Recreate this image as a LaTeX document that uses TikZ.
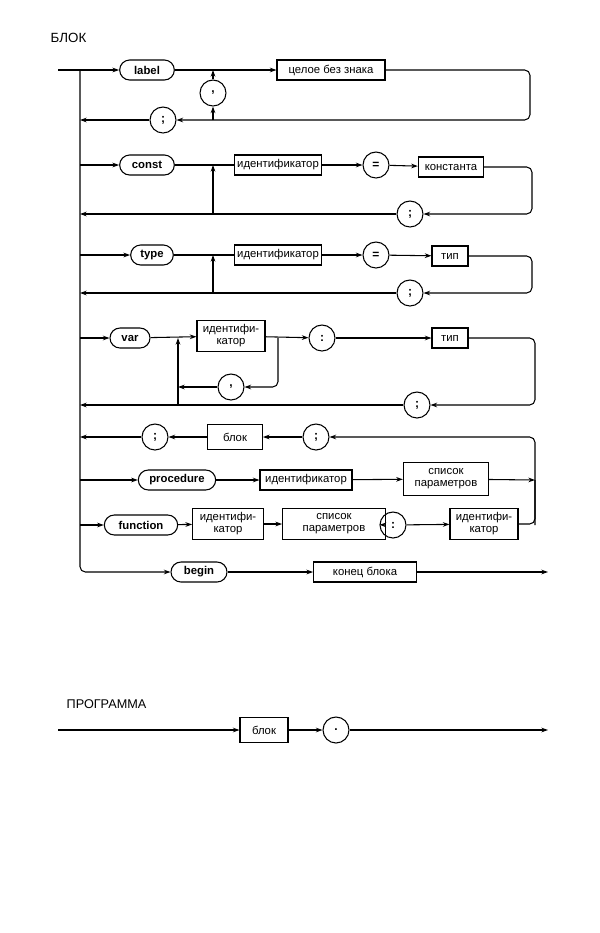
\documentclass[tikz,border=0pt]{standalone}
\usepackage{fontspec}
\setmainfont{Liberation Sans}
\usetikzlibrary{arrows.meta}

\tikzset{
  kw/.style={draw, thick, rounded corners=7.5pt, minimum height=15pt, inner sep=2pt, font=\fontsize{8.5}{9}\selectfont\bfseries},
  nt/.style={draw, thick, minimum height=15pt, inner sep=2pt, font=\fontsize{8.5}{9}\selectfont},
  sym/.style={draw, thick, circle, minimum size=19.5pt, inner sep=0pt, font=\fontsize{9}{9}\selectfont\bfseries},
  ln/.style={thick, rounded corners=4pt},
  arr/.style={ln, -{Stealth[length=5pt, width=3.5pt]}}
}

\begin{document}
\begin{tikzpicture}[x=0.75pt, y=-0.75pt]
\useasboundingbox (0,0) rectangle (600,933);
\node[anchor=west, font=\fontsize{10}{10}\selectfont] (blokT) at (46,38) {БЛОК};
\node[anchor=west, font=\fontsize{9.5}{10}\selectfont] (progT) at (62,704) {ПРОГРАММА};

% trunk and begin row
\coordinate (in) at (58,70);
\coordinate (top) at (80,70);
\node[kw, minimum width=42pt] (beg) at (199,572) {begin};
\node[nt, minimum width=77pt] (endb) at (365,572) {конец блока};
\coordinate (out) at (548,572);
\draw[thick] (in) -- (top);
\draw[arr] (top) |- (beg.west);
\draw[arr] (beg) -- (endb);
\draw[arr] (endb) -- (out);

% label
\node[kw, minimum width=41pt] (lab) at (147,70) {label};
\node[nt, minimum width=81pt] (uint) at (331,70) {целое без знака};
\node[sym] (cm1) at (213,93) {,};
\node[sym] (sc1) at (163,120) {;};
\coordinate (r1) at (530,120);
\coordinate (j1t) at (213,70);
\coordinate (j1b) at (213,120);
\coordinate (b1) at (80,120);
\draw[arr] (top) -- (lab);
\draw[arr] (lab) -- (uint);
\draw[arr] (uint.east) -| (r1) -- (sc1);
\draw[arr] (j1b) -- (cm1);
\draw[arr] (cm1) -- (j1t);
\draw[arr] (sc1) -- (b1);

% const
\node[kw, minimum width=41pt] (cst) at (147,165) {const};
\node[nt, minimum width=62pt] (id2) at (278,165) {идентификатор};
\node[sym] (eq2) at (376,165) {=};
\node[nt, minimum width=49pt] (con) at (451,167) {константа};
\node[sym] (sc2) at (410,214) {;};
\coordinate (t2) at (80,165);
\coordinate (r2) at (532,214);
\coordinate (j2b) at (213,214);
\coordinate (j2t) at (213,165);
\coordinate (b2) at (80,214);
\draw[arr] (t2) -- (cst);
\draw[thick] (cst) -- (id2);
\draw[arr] (id2) -- (eq2);
\draw[arr] (eq2) -- (con);
\draw[arr] (con.east) -| (r2) -- (sc2);
\draw[arr] (sc2) -- (b2);
\draw[arr] (j2b) -- (j2t);

% type
\node[kw, minimum width=32pt] (typ) at (152,255) {type};
\node[nt, minimum width=62pt] (id3) at (278,255) {идентификатор};
\node[sym] (eq3) at (376,255) {=};
\node[nt, minimum width=27pt] (ty3) at (450,256) {тип};
\node[sym] (sc3) at (410,293) {;};
\coordinate (t3) at (80,255);
\coordinate (r3) at (532,293);
\coordinate (j3b) at (213,293);
\coordinate (j3t) at (213,255);
\coordinate (b3) at (80,293);
\draw[arr] (t3) -- (typ);
\draw[thick] (typ) -- (id3);
\draw[arr] (id3) -- (eq3);
\draw[arr] (eq3) -- (ty3);
\draw[arr] (ty3.east) -| (r3) -- (sc3);
\draw[arr] (sc3) -- (b3);
\draw[arr] (j3b) -- (j3t);

% var
\node[kw, minimum width=30pt] (var) at (130,338) {var};
\node[nt, minimum width=51pt, minimum height=23pt, align=center, inner sep=1pt] (id4) at (231,336) {идентифи-\\катор};
\node[sym] (col4) at (322,338) {:};
\node[nt, minimum width=27pt] (ty4) at (450,338) {тип};
\node[sym] (cm4) at (231,387) {,};
\node[sym] (sc4) at (417,405) {;};
\coordinate (t4) at (80,338);
\coordinate (j4t) at (178,338);
\coordinate (j4b) at (178,405);
\coordinate (j4c) at (178,387);
\coordinate (k4) at (278,338);
\coordinate (k4b) at (278,387);
\coordinate (r4) at (535,405);
\coordinate (b4) at (80,405);
\draw[arr] (t4) -- (var);
\draw[arr] (var) -- (id4);
\draw[arr] (id4) -- (col4);
\draw[arr] (col4) -- (ty4);
\draw[arr] (ty4.east) -| (r4) -- (sc4);
\draw[arr] (sc4) -- (b4);
\draw[arr] (j4b) -- (j4t);
\draw[arr] (k4) -- (k4b) -- (cm4);
\draw[arr] (cm4) -- (j4c);

% procedure / function
\node[sym] (sc5a) at (155,437) {;};
\node[nt, minimum width=41pt, minimum height=19pt] (blk) at (235,437) {блок};
\node[sym] (sc5b) at (316,437) {;};
\coordinate (b5) at (80,437);
\coordinate (r5) at (535,437);
\coordinate (r6) at (535,480);
\coordinate (r7) at (535,525);
\draw[arr] (r7) -- (r5) -- (sc5b);
\draw[arr] (sc5b) -- (blk);
\draw[arr] (blk) -- (sc5a);
\draw[arr] (sc5a) -- (b5);

\node[kw, minimum width=58pt] (proc) at (177,480) {procedure};
\node[nt, minimum width=69pt] (id6) at (306,480) {идентификатор};
\node[nt, minimum width=64pt, minimum height=25pt, align=center, inner sep=1pt] (par6) at (446,479) {список\\параметров};
\coordinate (t6) at (80,480);
\draw[arr] (t6) -- (proc);
\draw[arr] (proc) -- (id6);
\draw[arr] (id6) -- (par6);
\draw[arr] (par6) -- (r6);

\node[kw, minimum width=55pt] (fun) at (141,525) {function};
\node[nt, minimum width=53pt, minimum height=23pt, align=center, inner sep=1pt] (id7) at (228,524) {идентифи-\\катор};
\node[nt, minimum width=77pt, minimum height=23pt, align=center, inner sep=1pt] (par7) at (334,524) {список\\параметров};
\node[sym] (col7) at (393,525) {:};
\node[nt, minimum width=51pt, minimum height=23pt, align=center, inner sep=1pt] (ty7) at (484,524) {идентифи-\\катор};
\coordinate (t7) at (80,525);
\draw[arr] (t7) -- (fun);
\draw[arr] (fun) -- (id7);
\draw[arr] (id7) -- (par7);
\draw[arr] (par7) -- (col7);
\draw[arr] (col7) -- (ty7);
\draw[ln] (ty7.east) -| (r6);

% programma
\coordinate (pin) at (58,730);
\node[nt, minimum width=36pt, minimum height=19pt] (pblk) at (264,730) {блок};
\node[sym] (dot) at (336,730) {.};
\coordinate (pout) at (548,730);
\draw[arr] (pin) -- (pblk);
\draw[arr] (pblk) -- (dot);
\draw[arr] (dot) -- (pout);
\end{tikzpicture}
\end{document}
